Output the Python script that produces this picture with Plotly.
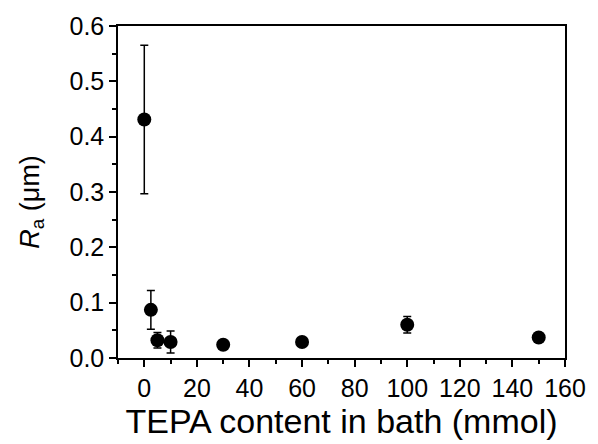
import plotly.graph_objects as go

tepa = [0, 2.5, 5, 10, 30, 60, 100, 150]
ra = [0.431, 0.087, 0.032, 0.029, 0.024, 0.029, 0.060, 0.037]
ra_err = [0.134, 0.035, 0.014, 0.020, 0.003, 0.003, 0.015, 0.003]

FONT = "Liberation Sans, Arial, sans-serif"

fig = go.Figure()
fig.add_trace(go.Scatter(
    x=tepa, y=ra, mode="markers",
    marker=dict(color="black", size=14, symbol="circle"),
    error_y=dict(type="data", array=ra_err, visible=True, color="black", thickness=1.5, width=4),
    showlegend=False,
))

axis_common = dict(
    showline=True, linecolor="black", linewidth=1.5, mirror=True,
    ticks="outside", tickcolor="black", tickwidth=1.5, ticklen=7,
    showgrid=False, zeroline=False,
    tickfont=dict(family=FONT, size=25, color="black"),
)

fig.update_xaxes(
    range=[-10, 160], dtick=20, tick0=0,
    minor=dict(dtick=10, ticks="outside", ticklen=4, tickcolor="black", tickwidth=1.5),
    title=dict(text="TEPA content in bath (mmol)", standoff=6,
               font=dict(family=FONT, size=34, color="black")),
    **axis_common,
)
fig.update_yaxes(
    range=[0, 0.6], dtick=0.1, tick0=0, tickformat=".1f",
    minor=dict(dtick=0.05, ticks="outside", ticklen=4, tickcolor="black", tickwidth=1.5),
    **axis_common,
)

fig.add_annotation(
    text="<i>R</i><sub>a</sub> (μm)", textangle=-90,
    xref="paper", yref="paper", x=-0.193, y=0.47,
    xanchor="center", yanchor="middle", showarrow=False,
    font=dict(family=FONT, size=27, color="black"),
)

fig.update_layout(
    width=598, height=444,
    margin=dict(l=118, r=24, t=24, b=86),
    plot_bgcolor="white", paper_bgcolor="white",
)

fig.write_html("out.html")
